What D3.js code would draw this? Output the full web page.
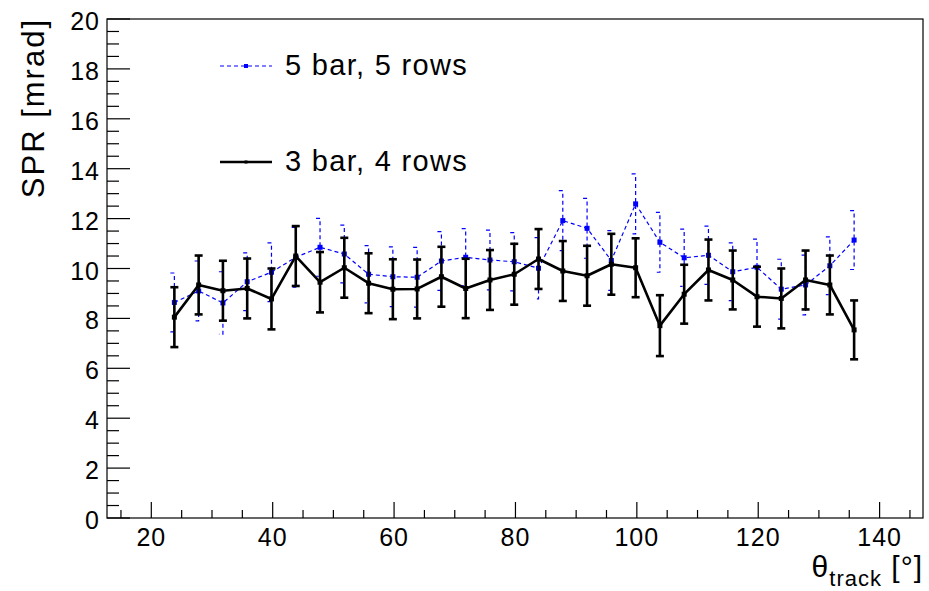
<!DOCTYPE html>
<html>
<head>
<meta charset="utf-8">
<script src="https://cdn.jsdelivr.net/npm/d3@7"></script>
<style>
  body { margin: 0; background: #fff; }
  text { font-family: "Liberation Sans", Arial, Helvetica, sans-serif; }
</style>
</head>
<body>
<div id="viz"></div>
<script>
const margin = {top: 19, right: 6, bottom: 73, left: 107};
const width = 929;
const height = 591;

// theta of each bin centre (deg)
const thetas = [23.8, 27.8, 31.8, 35.8, 39.8, 43.8, 47.8, 51.8, 55.8, 59.8,
  63.8, 67.8, 71.8, 75.8, 79.8, 83.8, 87.8, 91.8, 95.8, 99.8,
  103.8, 107.8, 111.8, 115.8, 119.8, 123.8, 127.8, 131.8, 135.8];

// 5 bar, 5 rows (blue, dashed)
const spr5 = [8.64, 9.1, 8.62, 9.47, 9.85, 10.45, 10.85, 10.58, 9.77, 9.67,
  9.65, 10.3, 10.45, 10.34, 10.27, 10.01, 11.92, 11.61, 10.32, 12.59,
  11.05, 10.43, 10.53, 9.87, 10.05, 9.17, 9.34, 10.11, 11.14];
const err5 = [1.18, 1.2, 1.25, 1.16, 1.18, 1.2, 1.16, 1.16, 1.15, 1.2,
  1.2, 1.18, 1.15, 1.2, 1.17, 1.23, 1.2, 1.2, 1.2, 1.2,
  1.2, 1.15, 1.17, 1.16, 1.13, 1.2, 1.2, 1.16, 1.18];

// 3 bar, 4 rows (black, solid)
const spr3 = [8.05, 9.34, 9.11, 9.2, 8.78, 10.5, 9.45, 10.03, 9.41, 9.17,
  9.18, 9.67, 9.2, 9.54, 9.77, 10.38, 9.9, 9.71, 10.17, 10.03,
  7.71, 8.97, 9.94, 9.54, 8.87, 8.8, 9.54, 9.34, 7.54];
const err3 = [1.2, 1.18, 1.2, 1.2, 1.22, 1.2, 1.21, 1.2, 1.2, 1.2,
  1.18, 1.2, 1.19, 1.2, 1.22, 1.2, 1.2, 1.2, 1.22, 1.18,
  1.22, 1.18, 1.22, 1.18, 1.2, 1.2, 1.18, 1.18, 1.18];

const xTicks = [20, 40, 60, 80, 100, 120, 140];
const yTicks = [0, 2, 4, 6, 8, 10, 12, 14, 16, 18, 20];

const svg = d3.select('#viz')
  .append('svg')
    .attr('width', width)
    .attr('height', height);

const xScale = d3.scaleLinear()
  .domain([12.7, 147.15])
  .range([margin.left, width - margin.right]);

const yScale = d3.scaleLinear()
  .domain([0, 20])
  .range([height - margin.bottom, margin.top]);

const x0 = margin.left, x1 = width - margin.right;
const y0 = height - margin.bottom, y1 = margin.top;

// frame
svg.append('rect')
  .attr('x', x0).attr('y', y1)
  .attr('width', x1 - x0).attr('height', y0 - y1)
  .attr('fill', 'none')
  .attr('stroke', '#000')
  .attr('stroke-width', 1.2);

// x axis: major + minor ticks (inside)
const xMinor = d3.range(15, 146, 5).filter(v => v % 20 !== 0);
svg.append('g').selectAll('line').data(xMinor).join('line')
  .attr('x1', d => xScale(d)).attr('x2', d => xScale(d))
  .attr('y1', y0).attr('y2', y0 - 8)
  .attr('stroke', '#000').attr('stroke-width', 1.2);
svg.append('g').selectAll('line').data(xTicks).join('line')
  .attr('x1', d => xScale(d)).attr('x2', d => xScale(d))
  .attr('y1', y0).attr('y2', y0 - 16)
  .attr('stroke', '#000').attr('stroke-width', 1.2);
svg.append('g').selectAll('text').data(xTicks).join('text')
  .attr('x', d => xScale(d))
  .attr('y', y0 + 28)
  .attr('text-anchor', 'middle')
  .style('font-size', '25px')
  .style('letter-spacing', '1px')
  .text(d => d);

// y axis
const yMinor = d3.range(0, 20.01, 0.5).filter(v => v % 2 !== 0);
svg.append('g').selectAll('line').data(yMinor).join('line')
  .attr('x1', x0).attr('x2', x0 + 12)
  .attr('y1', d => yScale(d)).attr('y2', d => yScale(d))
  .attr('stroke', '#000').attr('stroke-width', 1.2);
svg.append('g').selectAll('line').data(yTicks).join('line')
  .attr('x1', x0).attr('x2', x0 + 23)
  .attr('y1', d => yScale(d)).attr('y2', d => yScale(d))
  .attr('stroke', '#000').attr('stroke-width', 1.2);
svg.append('g').selectAll('text').data(yTicks).join('text')
  .attr('x', x0 - 7)
  .attr('y', d => yScale(d) + 11)
  .attr('text-anchor', 'end')
  .style('font-size', '25px')
  .style('letter-spacing', '1px')
  .text(d => d);

// axis titles
svg.append('text')
  .attr('transform', `translate(44, 18) rotate(-90)`)
  .attr('text-anchor', 'end')
  .style('font-size', '31px')
  .style('letter-spacing', '2px')
  .text('SPR [mrad]');

const xt = svg.append('text')
  .attr('x', x1)
  .attr('y', 577)
  .attr('text-anchor', 'end')
  .style('font-size', '30px')
  .style('letter-spacing', '1px');
xt.append('tspan').text('θ');
xt.append('tspan').attr('dy', 9).style('font-size', '22px').text('track');
xt.append('tspan').attr('dy', -9).text(' [°]');

// series
const pts5 = thetas.map((t, i) => ({x: t, y: spr5[i], e: err5[i]}));
const pts3 = thetas.map((t, i) => ({x: t, y: spr3[i], e: err3[i]}));

const line = d3.line()
  .x(d => xScale(d.x))
  .y(d => yScale(d.y));

// blue: dashed line, dashed bracket error bars
const blue = svg.append('g');
blue.append('path')
  .attr('d', line(pts5))
  .attr('fill', 'none')
  .attr('stroke', '#0000ff')
  .attr('stroke-width', 1.2)
  .attr('stroke-dasharray', '4,3');
blue.selectAll('path.err').data(pts5).join('path')
  .attr('class', 'err')
  .attr('d', d => {
    const x = xScale(d.x);
    const yt = yScale(d.y + d.e), yb = yScale(d.y - d.e);
    return `M${x - 4},${yt}L${x},${yt}L${x},${yb}L${x - 4},${yb}`;
  })
  .attr('fill', 'none')
  .attr('stroke', '#0000ff')
  .attr('stroke-width', 1.2)
  .attr('stroke-dasharray', '4,3');
blue.selectAll('rect').data(pts5).join('rect')
  .attr('x', d => xScale(d.x) - 2.5)
  .attr('y', d => yScale(d.y) - 2.5)
  .attr('width', 5).attr('height', 5)
  .attr('fill', '#0000ff');

// black: solid line with error bars
const black = svg.append('g');
black.append('path')
  .attr('d', line(pts3))
  .attr('fill', 'none')
  .attr('stroke', '#000')
  .attr('stroke-width', 2.6)
  .attr('stroke-linejoin', 'round');
black.selectAll('line.bar').data(pts3).join('line')
  .attr('class', 'bar')
  .attr('x1', d => xScale(d.x)).attr('x2', d => xScale(d.x))
  .attr('y1', d => yScale(d.y + d.e)).attr('y2', d => yScale(d.y - d.e))
  .attr('stroke', '#000').attr('stroke-width', 2.6);
black.selectAll('line.capt').data(pts3).join('line')
  .attr('class', 'capt')
  .attr('x1', d => xScale(d.x) - 4).attr('x2', d => xScale(d.x) + 4)
  .attr('y1', d => yScale(d.y + d.e)).attr('y2', d => yScale(d.y + d.e))
  .attr('stroke', '#000').attr('stroke-width', 2.6);
black.selectAll('line.capb').data(pts3).join('line')
  .attr('class', 'capb')
  .attr('x1', d => xScale(d.x) - 4).attr('x2', d => xScale(d.x) + 4)
  .attr('y1', d => yScale(d.y - d.e)).attr('y2', d => yScale(d.y - d.e))
  .attr('stroke', '#000').attr('stroke-width', 2.6);
black.selectAll('rect').data(pts3).join('rect')
  .attr('x', d => xScale(d.x) - 2.5)
  .attr('y', d => yScale(d.y) - 2.5)
  .attr('width', 5).attr('height', 5)
  .attr('fill', '#000');

// legend
const legend = svg.append('g');
legend.append('line')
  .attr('x1', 220).attr('x2', 272).attr('y1', 66).attr('y2', 66)
  .attr('stroke', '#0000ff').attr('stroke-width', 1.2)
  .attr('stroke-dasharray', '4,3');
legend.append('rect')
  .attr('x', 244).attr('y', 64).attr('width', 4).attr('height', 4)
  .attr('fill', '#0000ff');
legend.append('text')
  .attr('x', 285).attr('y', 75)
  .style('font-size', '29px')
  .style('letter-spacing', '1.3px')
  .text('5 bar, 5 rows');

legend.append('line')
  .attr('x1', 220).attr('x2', 272).attr('y1', 162).attr('y2', 162)
  .attr('stroke', '#000').attr('stroke-width', 2.4);
legend.append('rect')
  .attr('x', 244.5).attr('y', 160.5).attr('width', 3).attr('height', 3)
  .attr('fill', '#000');
legend.append('text')
  .attr('x', 285).attr('y', 171)
  .style('font-size', '29px')
  .style('letter-spacing', '1.3px')
  .text('3 bar, 4 rows');
</script>
</body>
</html>
